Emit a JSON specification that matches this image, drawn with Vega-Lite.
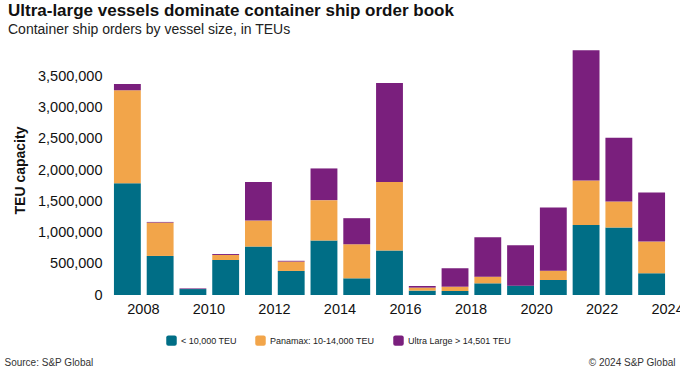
{
  "$schema": "https://vega.github.io/schema/vega-lite/v6.json",
  "autosize": {"type": "none"},
  "width": 557,
  "height": 250,
  "padding": {"left": 111, "top": 45, "right": 12, "bottom": 78},
  "background": "white",
  "config": {
    "font": "Liberation Sans",
    "view": {"stroke": null}
  },
  "title": {
    "text": "Ultra-large vessels dominate container ship order book",
    "subtitle": "Container ship orders by vessel size, in TEUs",
    "anchor": "start",
    "frame": "group",
    "dx": -103,
    "offset": 7,
    "fontSize": 17,
    "fontWeight": "bold",
    "color": "#111111",
    "subtitleFontSize": 14,
    "subtitleColor": "#222222",
    "subtitlePadding": 3
  },
  "data": {
    "values": [
      {"year": "2008", "size": "< 10,000 TEU", "teu": 1790000},
      {"year": "2008", "size": "Panamax: 10-14,000 TEU", "teu": 1486000},
      {"year": "2008", "size": "Ultra Large > 14,501 TEU", "teu": 100000},
      {"year": "2009", "size": "< 10,000 TEU", "teu": 625000},
      {"year": "2009", "size": "Panamax: 10-14,000 TEU", "teu": 534000},
      {"year": "2009", "size": "Ultra Large > 14,501 TEU", "teu": 10000},
      {"year": "2010", "size": "< 10,000 TEU", "teu": 95000},
      {"year": "2010", "size": "Panamax: 10-14,000 TEU", "teu": 0},
      {"year": "2010", "size": "Ultra Large > 14,501 TEU", "teu": 10000},
      {"year": "2011", "size": "< 10,000 TEU", "teu": 560000},
      {"year": "2011", "size": "Panamax: 10-14,000 TEU", "teu": 80000},
      {"year": "2011", "size": "Ultra Large > 14,501 TEU", "teu": 15000},
      {"year": "2012", "size": "< 10,000 TEU", "teu": 775000},
      {"year": "2012", "size": "Panamax: 10-14,000 TEU", "teu": 416000},
      {"year": "2012", "size": "Ultra Large > 14,501 TEU", "teu": 616000},
      {"year": "2013", "size": "< 10,000 TEU", "teu": 385000},
      {"year": "2013", "size": "Panamax: 10-14,000 TEU", "teu": 150000},
      {"year": "2013", "size": "Ultra Large > 14,501 TEU", "teu": 12000},
      {"year": "2014", "size": "< 10,000 TEU", "teu": 871000},
      {"year": "2014", "size": "Panamax: 10-14,000 TEU", "teu": 647000},
      {"year": "2014", "size": "Ultra Large > 14,501 TEU", "teu": 507000},
      {"year": "2015", "size": "< 10,000 TEU", "teu": 267000},
      {"year": "2015", "size": "Panamax: 10-14,000 TEU", "teu": 545000},
      {"year": "2015", "size": "Ultra Large > 14,501 TEU", "teu": 417000},
      {"year": "2016", "size": "< 10,000 TEU", "teu": 711000},
      {"year": "2016", "size": "Panamax: 10-14,000 TEU", "teu": 1096000},
      {"year": "2016", "size": "Ultra Large > 14,501 TEU", "teu": 1587000},
      {"year": "2017", "size": "< 10,000 TEU", "teu": 70000},
      {"year": "2017", "size": "Panamax: 10-14,000 TEU", "teu": 48000},
      {"year": "2017", "size": "Ultra Large > 14,501 TEU", "teu": 26000},
      {"year": "2018", "size": "< 10,000 TEU", "teu": 64000},
      {"year": "2018", "size": "Panamax: 10-14,000 TEU", "teu": 69000},
      {"year": "2018", "size": "Ultra Large > 14,501 TEU", "teu": 295000},
      {"year": "2019", "size": "< 10,000 TEU", "teu": 187000},
      {"year": "2019", "size": "Panamax: 10-14,000 TEU", "teu": 107000},
      {"year": "2019", "size": "Ultra Large > 14,501 TEU", "teu": 631000},
      {"year": "2020", "size": "< 10,000 TEU", "teu": 150000},
      {"year": "2020", "size": "Panamax: 10-14,000 TEU", "teu": 0},
      {"year": "2020", "size": "Ultra Large > 14,501 TEU", "teu": 646000},
      {"year": "2021", "size": "< 10,000 TEU", "teu": 240000},
      {"year": "2021", "size": "Panamax: 10-14,000 TEU", "teu": 150000},
      {"year": "2021", "size": "Ultra Large > 14,501 TEU", "teu": 1010000},
      {"year": "2022", "size": "< 10,000 TEU", "teu": 1122000},
      {"year": "2022", "size": "Panamax: 10-14,000 TEU", "teu": 711000},
      {"year": "2022", "size": "Ultra Large > 14,501 TEU", "teu": 2084000},
      {"year": "2023", "size": "< 10,000 TEU", "teu": 1079000},
      {"year": "2023", "size": "Panamax: 10-14,000 TEU", "teu": 417000},
      {"year": "2023", "size": "Ultra Large > 14,501 TEU", "teu": 1021000},
      {"year": "2024", "size": "< 10,000 TEU", "teu": 348000},
      {"year": "2024", "size": "Panamax: 10-14,000 TEU", "teu": 507000},
      {"year": "2024", "size": "Ultra Large > 14,501 TEU", "teu": 785000}
    ]
  },
  "layer": [
    {
      "mark": {"type": "bar"},
      "encoding": {
        "x": {
          "field": "year",
          "type": "ordinal",
          "scale": {"paddingInner": 0.18, "paddingOuter": 0.09},
          "axis": {
            "values": ["2008", "2010", "2012", "2014", "2016", "2018", "2020", "2022", "2024"],
            "labelAngle": 0,
            "labelOffset": 16,
            "labelPadding": 7,
            "labelFontSize": 14.5,
            "labelColor": "#111111",
            "labelBound": false,
            "labelOverlap": false,
            "labelFlush": false,
            "ticks": false,
            "tickSize": 0,
            "domain": false,
            "title": "Source: S&P Global",
            "titleX": -107,
            "titleY": 70,
            "titleAlign": "left",
            "titleBaseline": "alphabetic",
            "titleFontSize": 10,
            "titleFontWeight": "normal",
            "titleColor": "#333333"
          }
        },
        "y": {
          "field": "teu",
          "type": "quantitative",
          "stack": "zero",
          "scale": {"domain": [0, 4000000], "nice": false},
          "axis": {
            "values": [0, 500000, 1000000, 1500000, 2000000, 2500000, 3000000, 3500000],
            "format": ",d",
            "grid": false,
            "domain": false,
            "ticks": false,
            "tickSize": 0,
            "labelPadding": 9,
            "labelFontSize": 14.5,
            "labelColor": "#111111",
            "title": "TEU capacity",
            "titleFontSize": 14,
            "titleFontWeight": "bold",
            "titleColor": "#111111",
            "titleAngle": -90,
            "titleX": -91,
            "titleY": 125,
            "titleAlign": "center",
            "titleBaseline": "middle"
          }
        },
        "color": {
          "field": "size",
          "type": "nominal",
          "sort": ["< 10,000 TEU", "Panamax: 10-14,000 TEU", "Ultra Large > 14,501 TEU"],
          "scale": {
            "domain": ["< 10,000 TEU", "Panamax: 10-14,000 TEU", "Ultra Large > 14,501 TEU"],
            "range": ["#006E86", "#F2A54A", "#7A1F7D"]
          },
          "legend": {
            "orient": "none",
            "direction": "horizontal",
            "legendX": 55,
            "legendY": 290,
            "title": null,
            "symbolType": "M-0.6,-1H0.6Q1,-1 1,-0.6V0.6Q1,1 0.6,1H-0.6Q-1,1 -1,0.6V-0.6Q-1,-1 -0.6,-1Z",
            "symbolSize": 110,
            "symbolStrokeWidth": 0,
            "symbolOpacity": 1,
            "labelFontSize": 9,
            "labelColor": "#222222",
            "labelOffset": 4,
            "columnPadding": 18
          }
        },
        "order": {"field": "size", "sort": "ascending"}
      }
    },
    {
      "mark": {"type": "rule", "opacity": 0},
      "encoding": {
        "y": {
          "datum": 0,
          "type": "quantitative",
          "axis": {
            "orient": "right",
            "labels": false,
            "ticks": false,
            "domain": false,
            "grid": false,
            "title": "© 2024 S&P Global",
            "titleAngle": 0,
            "titleX": 7,
            "titleY": 320,
            "titleAlign": "right",
            "titleBaseline": "alphabetic",
            "titleFontSize": 10,
            "titleFontWeight": "normal",
            "titleColor": "#333333"
          }
        }
      }
    }
  ],
  "resolve": {"axis": {"y": "independent"}}
}
